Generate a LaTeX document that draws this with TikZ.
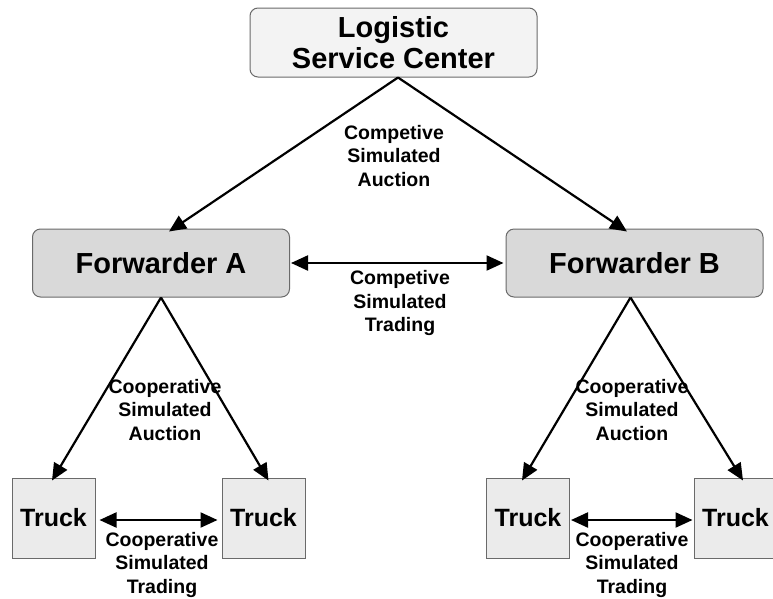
\documentclass[tikz,border=0pt]{standalone}
\usepackage{fontspec}
\setmainfont{Liberation Sans}
\usetikzlibrary{arrows.meta}
\definecolor{edgegray}{HTML}{6A6A6A}
\definecolor{centerfill}{HTML}{F3F3F3}
\definecolor{fwdfill}{HTML}{D9D9D9}
\definecolor{truckfill}{HTML}{EBEBEB}
\tikzset{
  centerbox/.style={draw=edgegray, line width=1pt, fill=centerfill, rounded corners=8pt,
    minimum width=287pt, minimum height=69pt, inner sep=0pt, align=center,
    font=\fontsize{29}{31}\selectfont\bfseries},
  fwdbox/.style={draw=edgegray, line width=1pt, fill=fwdfill, rounded corners=8pt,
    minimum width=257pt, minimum height=68pt, inner sep=0pt,
    font=\fontsize{29}{31}\selectfont\bfseries},
  truckbox/.style={draw=edgegray, line width=1pt, fill=truckfill,
    minimum width=83pt, minimum height=80pt, inner sep=0pt,
    font=\fontsize{25}{28}\selectfont\bfseries},
  lbl/.style={align=center, inner sep=0pt,
    font=\fontsize{19.5}{23.5}\selectfont\bfseries},
  tip/.style={Triangle[length=17pt,width=15pt]},
  link/.style={line width=2.2pt, -{Triangle[length=17pt,width=15pt]}},
  dlink/.style={line width=2.2pt, {Triangle[length=17pt,width=15pt]}-{Triangle[length=17pt,width=15pt]}}
}
\begin{document}
\begin{tikzpicture}[x=1pt,y=-1pt]
  \useasboundingbox (0,0) rectangle (773,598);
  \begin{scope}
  \clip (0,0) rectangle (773,598);

  % boxes
  \node[centerbox] (lsc) at (393.5,42.5) {Logistic\\Service Center};
  \node[fwdbox] (fa) at (161,263) {Forwarder A};
  \node[fwdbox] (fb) at (634.5,263) {Forwarder B};
  \node[truckbox] (t1) at (53.5,518) {Truck};
  \node[truckbox] (t2) at (263.5,518) {Truck};
  \node[truckbox] (t3) at (528,518) {Truck};
  \node[truckbox] (t4) at (735.5,518) {Truck};

  % labels
  \node[lbl] (l1) at (394,156) {Competive\\Simulated\\Auction};
  \node[lbl] (l2) at (400,303) {Competive\\Simulated\\Trading};
  \node[lbl] (l3) at (165,410) {Cooperative\\Simulated\\Auction};
  \node[lbl] (l4) at (632,410) {Cooperative\\Simulated\\Auction};
  \node[lbl] (l5) at (162,564.5) {Cooperative\\Simulated\\Trading};
  \node[lbl] (l6) at (632,564.5) {Cooperative\\Simulated\\Trading};

  % auction links
  \draw[link] ([xshift=4.5pt]lsc.south) -- ([xshift=8pt,yshift=-3pt]fa.north);
  \draw[link] ([xshift=4.5pt]lsc.south) -- ([xshift=-7.5pt,yshift=-3pt]fb.north);
  \draw[link] (fa.south) -- ([xshift=-1.5pt,yshift=-3pt]t1.north);
  \draw[link] (fa.south) -- ([xshift=5pt,yshift=-3pt]t2.north);
  \draw[link] ([xshift=-4pt]fb.south) -- ([xshift=-6pt,yshift=-3pt]t3.north);
  \draw[link] ([xshift=-4pt]fb.south) -- ([xshift=7.5pt,yshift=-3pt]t4.north);

  % trading links
  \draw[dlink] ([xshift=1pt]fa.east) -- ([xshift=-2pt]fb.west);
  \draw[dlink] ([xshift=4pt,yshift=-2pt]t1.east) -- ([xshift=-4pt,yshift=-2pt]t2.west);
  \draw[dlink] ([xshift=1pt,yshift=-2pt]t3.east) -- ([xshift=-1pt,yshift=-2pt]t4.west);
  \end{scope}
\end{tikzpicture}
\end{document}
